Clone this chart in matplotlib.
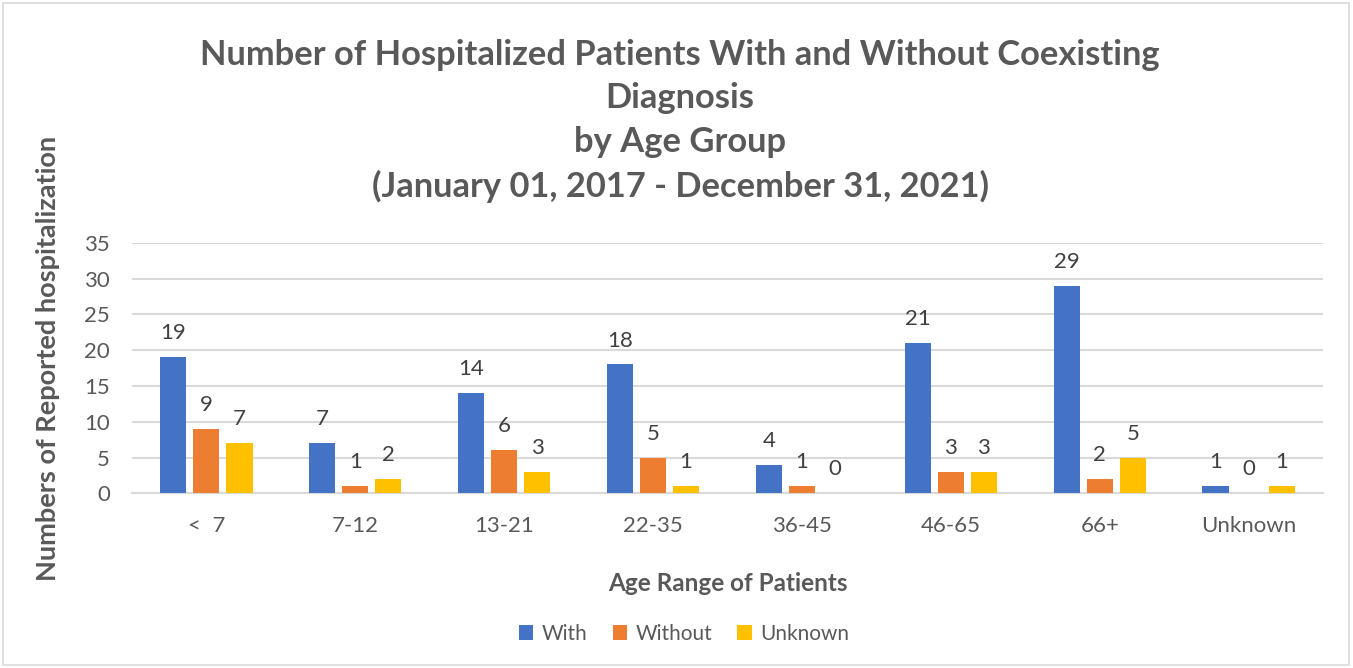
import matplotlib
matplotlib.use("Agg")
import matplotlib.pyplot as plt
from matplotlib.patches import Rectangle
import numpy as np

categories = ["<  7", "7-12", "13-21", "22-35", "36-45", "46-65", "66+", "Unknown"]
with_vals = [19, 7, 14, 18, 4, 21, 29, 1]
without_vals = [9, 1, 6, 5, 1, 3, 2, 0]
unknown_vals = [7, 2, 3, 1, 0, 3, 5, 1]
series_names = ["With", "Without", "Unknown"]
colors = ["#4472C4", "#ED7D31", "#FFC000"]

plt.rcParams['font.family'] = ['Lato', 'DejaVu Sans']

fig = plt.figure(figsize=(13.53, 6.68), dpi=100)
W, H = 1353, 668
ax = fig.add_axes([132 / W, 1 - 493.3 / H, (1323 - 132) / W, (493.3 - 242.7) / H])

x = np.arange(len(categories))
bw = 0.175
pitch = 0.222
text_c = "#404040"
for i, (vals, c, name) in enumerate(zip([with_vals, without_vals, unknown_vals], colors, series_names)):
    pos = x + (i - 1) * pitch
    ax.bar(pos, vals, width=bw, color=c, label=name, zorder=3)
    for p, v in zip(pos, vals):
        ax.annotate(str(v), (p, v), xytext=(0, 10), textcoords="offset points",
                    ha="center", va="bottom", fontsize=16, color=text_c)

ax.set_xlim(-0.5, len(categories) - 0.5)
ax.set_ylim(0, 35)
ax.set_yticks(range(0, 36, 5))
ax.grid(axis="y", color="#D9D9D9", linewidth=1.5, zorder=0)
for s in ["top", "right", "left"]:
    ax.spines[s].set_visible(False)
ax.spines["bottom"].set_color("#D9D9D9")
ax.spines["bottom"].set_linewidth(1.5)
ax.set_xticks(x)
ax.set_xticklabels(categories)
ax.tick_params(axis="both", length=0, labelsize=16, labelcolor="#595959")
ax.tick_params(axis="x", pad=16)
ax.tick_params(axis="y", pad=16)

ax.set_xlabel("Age Range of Patients", fontsize=17.5, fontweight="bold", color="#595959", labelpad=26)
fig.text(48 / W, 1 - 358 / H, "Numbers of Reported hospitalization", rotation=90,
         ha="center", va="center", fontsize=19.5, fontweight="bold", color="#595959")

fig.text(680 / W, 1 - 121 / H,
         "Number of Hospitalized Patients With and Without Coexisting\nDiagnosis\nby Age Group\n(January 01, 2017 - December 31, 2021)",
         ha="center", va="center", fontsize=24.8, fontweight="bold", color="#595959", linespacing=1.45)

leg = fig.legend(loc="center", bbox_to_anchor=(684 / W, 1 - 634 / H), ncol=3, frameon=False,
                 fontsize=15, handlelength=0.7, handleheight=0.7, columnspacing=1.2, handletextpad=0.4)
for t in leg.get_texts():
    t.set_color("#595959")

fig.patches.append(Rectangle((3 / W, 3 / H), 1346 / W, 662 / H, transform=fig.transFigure,
                             fill=False, edgecolor="#D9D9D9", linewidth=1.2))

fig.savefig("out.png", dpi=100)
